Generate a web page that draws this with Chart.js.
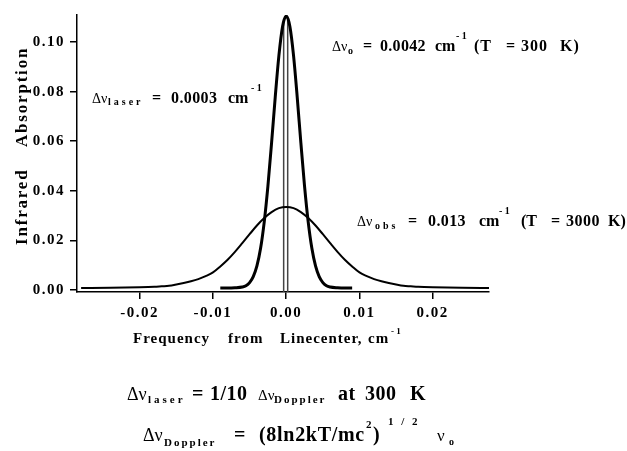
<!DOCTYPE html>
<html>
<head>
<meta charset="utf-8">
<script src="https://cdn.jsdelivr.net/npm/chart.js@4"></script>
<style>
  body { margin: 0; background: #fff; }
  canvas { display: block; }
</style>
</head>
<body>
<canvas id="grafico" width="627" height="451"></canvas>
<script>
const FAMILY = '"Liberation Serif", "Times New Roman", serif';

// 3000 K curve (broad)
const broadX = [-0.028, -0.024, -0.020, -0.018, -0.017, -0.016, -0.015, -0.014, -0.013, -0.012, -0.011,
  -0.010, -0.009, -0.008, -0.007, -0.006, -0.005, -0.004, -0.003, -0.002, -0.001, 0,
  0.001, 0.002, 0.003, 0.004, 0.005, 0.006, 0.007, 0.008, 0.009, 0.010,
  0.011, 0.012, 0.013, 0.014, 0.015, 0.016, 0.017, 0.018, 0.020, 0.024, 0.028];
const broadY = [0.0008, 0.0009, 0.0011, 0.0013, 0.0015, 0.0017, 0.0022, 0.0028, 0.0035, 0.0044, 0.0056,
  0.0071, 0.0095, 0.0122, 0.0154, 0.0189, 0.0225, 0.0260, 0.0290, 0.0314, 0.0330, 0.0335,
  0.0330, 0.0314, 0.0290, 0.0260, 0.0225, 0.0189, 0.0154, 0.0122, 0.0095, 0.0071,
  0.0056, 0.0044, 0.0035, 0.0028, 0.0022, 0.0017, 0.0015, 0.0013, 0.0011, 0.0009, 0.0008];

// 300 K curve (narrow)
const narrowX = [-0.009, -0.008, -0.007, -0.006, -0.0055, -0.005, -0.0045, -0.004, -0.0035, -0.003,
  -0.0025, -0.002, -0.0015, -0.001, -0.0005, 0, 0.0005, 0.001, 0.0015, 0.002, 0.0025,
  0.003, 0.0035, 0.004, 0.0045, 0.005, 0.0055, 0.006, 0.007, 0.008, 0.009];
const narrowY = [0.0008, 0.0008, 0.0009, 0.0012, 0.0017, 0.0030, 0.0054, 0.0097, 0.0168, 0.0275,
  0.0419, 0.0593, 0.0778, 0.0945, 0.1063, 0.1105, 0.1063, 0.0945, 0.0778, 0.0593, 0.0419,
  0.0275, 0.0168, 0.0097, 0.0054, 0.0030, 0.0017, 0.0012, 0.0009, 0.0008, 0.0008];

// laser linewidth markers
const laserX = [-0.00035, 0.0002];
const laserY = [-0.0008, 0.109];

const xTicks = [-0.02, -0.01, 0, 0.01, 0.02];
const yTicks = [0, 0.02, 0.04, 0.06, 0.08, 0.10];

const pontos = (xs, ys) => xs.map((x, i) => ({ x: x, y: ys[i] }));

// [x, texto, tamanho, negrito, dy, espacamento]
function escreve(ctx, base, segs) {
  ctx.save();
  ctx.fillStyle = '#000';
  ctx.textAlign = 'left';
  ctx.textBaseline = 'alphabetic';
  segs.forEach(([x, t, size, bold, dy, ls]) => {
    ctx.font = (bold ? 'bold ' : '') + size + 'px ' + FAMILY;
    ctx.letterSpacing = (ls || 0) + 'px';
    ctx.fillText(t, x, base + (dy || 0));
  });
  ctx.restore();
}

const textos = {
  id: 'textos',
  beforeDraw(chart) {
    chart.ctx.letterSpacing = '1.5px';
  },
  afterDraw(chart) {
    const ctx = chart.ctx;
    escreve(ctx, 103, [
      [92, 'Δν', 14, false], [108, 'laser', 10, true, 2, 3], [152, '=', 16, true],
      [171, '0.0003', 16, true, 0, 0.4], [228, 'cm', 16, true], [251, '- 1', 10, true, -12]
    ]);
    escreve(ctx, 51, [
      [332, 'Δν', 14, false], [348, 'o', 10, true, 3], [363, '=', 16, true],
      [380, '0.0042', 16, true, 0, 0.3], [435, 'cm', 16, true], [456, '- 1', 10, true, -12],
      [474, '(T', 16, true, 0, 1], [506, '=', 16, true], [521, '300', 16, true, 0, 1], [560, 'K)', 16, true, 0, 1]
    ]);
    escreve(ctx, 226, [
      [357, 'Δν', 14, false], [375, 'obs', 10, true, 2.5, 3], [408, '=', 16, true],
      [428, '0.013', 16, true, 0, 0.4], [479, 'cm', 16, true], [499, '- 1', 10, true, -12],
      [521, '(T', 16, true], [551, '=', 16, true], [566, '3000', 16, true, 0, 0.5], [608, 'K)', 16, true]
    ]);
    escreve(ctx, 343, [
      [133, 'Frequency', 15, true, 0, 1], [228, 'from', 15, true, 0, 1],
      [280, 'Linecenter,', 15, true, 0, 1], [368, 'cm', 15, true, 0, 1], [391, '- 1', 9, true, -9]
    ]);
    escreve(ctx, 400, [
      [127, 'Δν', 18, false], [148, 'laser', 11, true, 3, 3], [192, '=', 20, true],
      [210, '1/10', 20, true, 0, 0.5], [258, 'Δν', 15, false], [274, 'Doppler', 11, true, 3, 2],
      [338, 'at', 20, true, 0, 0.5], [365, '300', 20, true, 0, 0.5], [410, 'K', 20, true]
    ]);
    escreve(ctx, 441, [
      [143, 'Δν', 18, false], [164, 'Doppler', 11, true, 5, 2], [234, '=', 20, true],
      [259, '(8ln2kT/mc', 20, true, 0, 0.7], [366, '2', 11, true, -13], [373, ')', 20, true],
      [388, '1 / 2', 11, true, -16, 2.5], [437, 'ν', 17, false], [449, 'o', 10, true, 4]
    ]);
    // titulo do eixo y
    ctx.save();
    ctx.translate(27, 245);
    ctx.rotate(-Math.PI / 2);
    escreve(ctx, 0, [[0, 'Infrared', 17, true, 0, 1.8], [98, 'Absorption', 17, true, 0, 1.8]]);
    ctx.restore();
  }
};

new Chart(document.getElementById('grafico'), {
  type: 'scatter',
  data: {
    datasets: [
      { data: pontos(broadX, broadY), borderColor: '#000', borderWidth: 2, cubicInterpolationMode: 'monotone' },
      { data: pontos(narrowX, narrowY), borderColor: '#000', borderWidth: 3, cubicInterpolationMode: 'monotone' },
      { data: pontos([laserX[0], laserX[0]], laserY), borderColor: '#444', borderWidth: 1.5 },
      { data: pontos([laserX[1], laserX[1]], laserY), borderColor: '#444', borderWidth: 1.5 }
    ]
  },
  options: {
    responsive: false,
    animation: false,
    showLine: true,
    elements: { point: { radius: 0 } },
    layout: { padding: { left: 0, top: 15, right: 138, bottom: 0 } },
    plugins: { legend: { display: false }, tooltip: { enabled: false } },
    scales: {
      x: {
        type: 'linear',
        min: -0.02856,
        max: 0.02768,
        afterFit: (scale) => { scale.height = 159; },
        afterBuildTicks: (axis) => { axis.ticks = xTicks.map(v => ({ value: v })); },
        border: { color: '#000', width: 1.5 },
        grid: { drawOnChartArea: false, color: '#000', lineWidth: 1.5, tickLength: 7 },
        ticks: {
          color: '#000', padding: 5, maxRotation: 0,
          font: { family: FAMILY, size: 15, weight: 'bold' },
          callback: (v) => v.toFixed(2)
        }
      },
      y: {
        type: 'linear',
        min: -0.0008,
        max: 0.1109,
        afterFit: (scale) => { scale.width = 77; },
        afterBuildTicks: (axis) => { axis.ticks = yTicks.map(v => ({ value: v })); },
        border: { color: '#000', width: 1.5 },
        grid: { drawOnChartArea: false, color: '#000', lineWidth: 1.5, tickLength: 7 },
        ticks: {
          color: '#000', padding: 5,
          font: { family: FAMILY, size: 15, weight: 'bold' },
          callback: (v) => v.toFixed(2)
        }
      }
    }
  },
  plugins: [textos]
});
</script>
</body>
</html>
